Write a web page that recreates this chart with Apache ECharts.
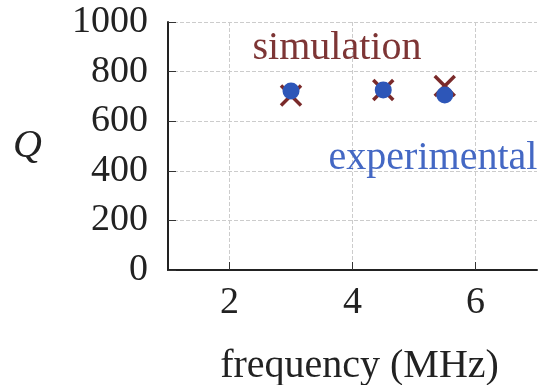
<!DOCTYPE html>
<html><head><meta charset="utf-8">
<script src="https://cdn.jsdelivr.net/npm/echarts@6/dist/echarts.min.js"></script>
<style>html,body{margin:0;padding:0;background:#fff}#c{width:540px;height:385px}</style>
</head><body><div id="c"></div>
<script>
var simX = [3, 4.5, 5.5];
var simQ = [704, 726, 742];
var expX = [3, 4.5, 5.5];
var expQ = [722, 726, 706];
var xTicks = [2, 4, 6];
var yTicks = [0, 200, 400, 600, 800, 1000];

var font = '"Liberation Serif","DejaVu Serif",serif';
var chart = echarts.init(document.getElementById('c'), null, {renderer: 'canvas'});
chart.setOption({
  animation: false,
  backgroundColor: '#fff',
  title: [
    {text: 'simulation', left: 332, top: 43, textAlign: 'center', textVerticalAlign: 'middle',
     textStyle: {fontFamily: font, fontSize: 40, fontWeight: 'normal', color: '#7d3535'}},
    {text: 'experimental', left: 428, top: 153, textAlign: 'center', textVerticalAlign: 'middle',
     textStyle: {fontFamily: font, fontSize: 40, fontWeight: 'normal', color: '#4468c4'}}
  ],
  grid: {left: 168, right: 3, top: 22, bottom: 115, containLabel: false, outerBoundsMode: 'none'},
  xAxis: {
    type: 'value', min: 1, max: 7,
    name: 'frequency (MHz)', nameLocation: 'middle', nameGap: 76,
    nameTextStyle: {fontFamily: font, fontSize: 40, color: '#222', padding: [0, 0, 0, 14]},
    axisLine: {show: true, onZero: false, lineStyle: {color: '#222', width: 2}},
    axisTick: {show: true, inside: true, length: 8, lineStyle: {color: '#333', width: 1}, customValues: xTicks},
    axisLabel: {fontFamily: font, fontSize: 38, color: '#222', margin: 14, customValues: xTicks},
    splitLine: {show: true, lineStyle: {color: '#ccc', type: 'dashed', width: 1}},
    interval: 2
  },
  yAxis: {
    type: 'value', min: 0, max: 1000, interval: 200,
    name: 'Q', nameLocation: 'middle', nameRotate: 0, nameGap: 126,
    nameTextStyle: {fontFamily: font, fontSize: 40, fontStyle: 'italic', color: '#222'},
    axisLine: {show: true, lineStyle: {color: '#222', width: 2}},
    axisTick: {show: true, inside: true, length: 8, lineStyle: {color: '#333', width: 1}},
    axisLabel: {fontFamily: font, fontSize: 38, color: '#222', margin: 20,
      formatter: function (v) { return yTicks.indexOf(v) >= 0 ? String(v) : ''; }},
    splitLine: {show: true, lineStyle: {color: '#ccc', type: 'dashed', width: 1}}
  },
  series: [
    {name: 'simulation', type: 'scatter',
     data: simX.map(function (x, i) { return [x, simQ[i]]; }),
     symbol: 'path://M0,0L10,10M10,0L0,10', symbolSize: 20,
     itemStyle: {color: 'none', borderColor: '#7a2a2a', borderWidth: 3.5, opacity: 1}},
    {name: 'experimental', type: 'scatter',
     data: expX.map(function (x, i) { return [x, expQ[i]]; }),
     symbol: 'circle', symbolSize: 17,
     itemStyle: {color: '#2d56b8', opacity: 1}}
  ]
});
</script></body></html>
